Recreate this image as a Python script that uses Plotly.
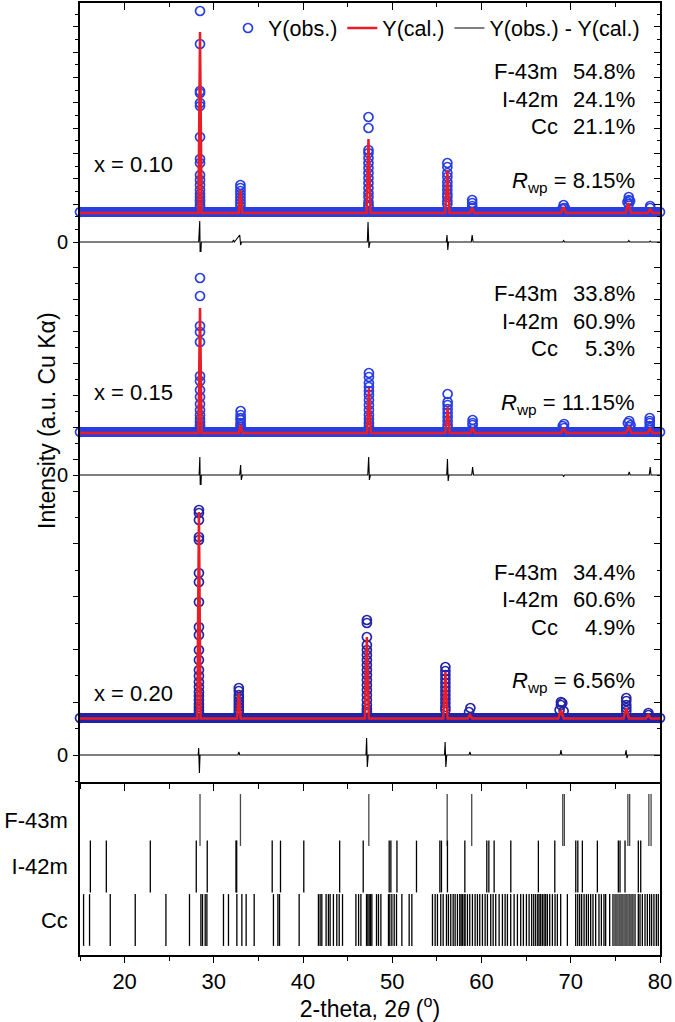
import plotly.graph_objects as go

# ---------------- data (intensity in a.u.; difference curve zero = 0) ----------------
# x = 0.10
p1_bg_obs = 300
p1_bg_cal = 290
p1_peak_pos = [28.45, 32.98, 47.33, 56.17, 58.95, 69.18, 76.45, 78.9]
p1_peak_cal = [2100, 520, 1030, 720, 340, 350, 390, 330]
p1_peak_hw = [0.18, 0.2, 0.22, 0.24, 0.25, 0.3, 0.3, 0.28]
p1_obs_pos = [28.45, 32.98, 47.33, 56.17, 58.95, 69.05, 69.2, 69.35, 76.35, 76.5, 76.65, 78.9, 15.0, 80.0]
p1_obs_vals = [[2310, 1980, 1510, 1490, 1390, 1360, 1050, 830, 790, 670, 620, 570, 520, 480, 450, 420, 400, 370, 350],
               [570, 540, 510, 480, 450, 420, 390, 360],
               [1250, 1140, 920, 890, 840, 790, 740, 690, 640, 590, 540, 490, 450, 400, 370, 350],
               [790, 750, 690, 650, 600, 560, 520, 480, 450, 410, 380],
               [420, 390, 360, 340],
               [330], [370, 340], [340],
               [400], [450, 420, 380], [410],
               [360, 340],
               [300], [300]]
p1_diff_x = [15, 28.3, 28.42, 28.48, 28.6, 32.1, 32.2, 32.3, 32.9, 33.0, 33.1, 47.2, 47.28, 47.38, 47.5,
             56.05, 56.13, 56.22, 56.3, 58.85, 58.95, 59.05, 69.1, 69.2, 69.3, 76.4, 76.5, 76.6, 78.8, 78.9, 79.0, 80]
p1_diff_y = [0, 0, 210, -230, 0, 0, 20, 0, 70, -30, 0, 0, 200, -60, 0,
             0, 70, -80, 0, 0, 70, 0, 0, 15, 0, 0, 15, 0, 0, 10, 0, 0]

# x = 0.15
p2_bg_obs = 430
p2_bg_cal = 420
p2_peak_pos = [28.45, 33.0, 47.38, 56.2, 59.0, 69.2, 76.5, 78.9]
p2_peak_cal = [1670, 500, 870, 680, 470, 470, 480, 470]
p2_peak_hw = [0.18, 0.2, 0.22, 0.24, 0.25, 0.3, 0.3, 0.28]
p2_obs_pos = [28.45, 33.0, 47.38, 56.2, 59.0, 69.1, 69.25, 76.4, 76.55, 76.7, 78.85, 15.0, 80.0]
p2_obs_vals = [[1970, 1790, 1490, 1430, 1330, 990, 940, 850, 780, 710, 650, 600, 560, 530, 500, 480, 460],
               [640, 600, 570, 550, 520, 500, 480, 460],
               [1020, 980, 920, 880, 840, 800, 750, 700, 650, 600, 560, 520, 490, 460],
               [810, 730, 700, 660, 620, 580, 540, 500, 470],
               [550, 520, 500, 460],
               [490], [510, 470],
               [520], [540, 480], [500],
               [570, 540, 520, 490, 470],
               [430], [430]]
p2_diff_x = [15, 28.35, 28.43, 28.5, 28.6, 32.9, 33.0, 33.08, 33.2, 47.25, 47.35, 47.43, 47.55,
             56.1, 56.18, 56.26, 56.35, 58.9, 59.0, 59.1, 69.1, 69.2, 69.3, 76.45, 76.55, 76.65,
             78.8, 78.9, 79.0, 80]
p2_diff_y = [0, 0, 180, -250, 0, 0, 100, -50, 0, 0, 180, -50, 0,
             0, 160, -60, 0, 0, 80, 0, 0, -15, 0, 0, 30, 0,
             0, 80, 0, 0]

# x = 0.20
p3_bg_obs = 370
p3_bg_cal = 365
p3_peak_pos = [28.33, 32.8, 47.15, 55.95, 58.7, 68.9, 76.22, 78.7]
p3_peak_cal = [2430, 620, 1180, 830, 400, 450, 470, 400]
p3_peak_hw = [0.18, 0.2, 0.22, 0.24, 0.25, 0.3, 0.3, 0.28]
p3_obs_pos = [28.33, 32.8, 47.15, 55.95, 58.6, 58.75, 68.75, 68.9, 69.05, 69.2, 76.22, 78.7, 15.0, 80.0]
p3_obs_vals = [[2450, 2420, 2350, 2180, 2150, 1820, 1730, 1530, 1280, 1200, 1050, 950, 850, 790, 730, 680,
                630, 590, 550, 510, 480, 450, 420],
               [670, 640, 600, 570, 540, 510, 480, 450, 420],
               [1350, 1320, 1180, 1100, 1050, 1000, 950, 900, 850, 800, 750, 700, 650, 600, 550, 500, 460, 430],
               [880, 840, 800, 760, 720, 680, 640, 600, 560, 520, 480, 450],
               [430], [470],
               [450], [530, 500], [520], [440],
               [570, 540, 500, 470, 440],
               [420, 400],
               [370], [370]]
p3_diff_x = [15, 28.25, 28.3, 28.38, 28.45, 32.7, 32.8, 32.9, 47.05, 47.12, 47.2, 47.3,
             55.85, 55.92, 56.0, 56.1, 58.6, 58.7, 58.8, 68.8, 68.9, 69.0, 76.1, 76.2, 76.3, 76.4, 80]
p3_diff_y = [0, 0, 70, -180, 0, 0, 30, 0, 0, 170, -120, 0,
             0, 130, -120, 0, 0, 30, 0, 0, 50, 0, 0, 50, -30, 0, 0]

samples = ["x = 0.10", "x = 0.15", "x = 0.20"]
phase_names = ["F-43m", "I-42m", "Cc"]
p1_frac = ["54.8%", "24.1%", "21.1%"]
p2_frac = ["33.8%", "60.9%", "5.3%"]
p3_frac = ["34.4%", "60.6%", "4.9%"]
rwp = ["8.15%", "11.15%", "6.56%"]

# Bragg reflection positions (2-theta, deg)
ref_F43m = [28.45, 32.98, 47.37, 56.15, 58.9, 69.1, 69.28, 76.4, 76.6, 78.75, 79.0]
ref_I42m = [16.16, 17.95, 22.88, 28.03, 29.26, 32.48, 32.56, 36.54, 37.47, 40.08, 44.1, 46.74,
            49.65, 49.84, 50.52, 52.71, 55.33, 55.51, 56.18, 58.13, 60.59, 60.82, 61.41, 63.28,
            66.37, 68.21, 70.56, 70.79, 71.3, 72.98, 75.33, 75.52, 76.08, 77.57, 77.84]
ref_Cc = [15.4, 16.07, 18.39, 21.19, 24.63, 27.27, 28.55, 28.73, 29.03, 29.22, 31.08, 31.64,
          32.58, 33.14, 33.62, 34.52, 36.68, 37.18, 37.36, 39.56, 41.72, 41.91, 42.1, 42.58,
          42.84, 43.03, 43.4, 43.78, 44.05, 44.42, 45.92, 46.22, 46.48, 47.11, 47.26, 47.41,
          47.56, 47.71, 48.23, 48.45, 48.72, 49.57, 49.72, 49.95, 50.21, 50.47, 51.07, 51.89,
          52.19, 54.5, 54.8, 55.06, 55.43, 55.7, 56.07, 56.29, 56.55, 56.82, 57.04, 57.3,
          57.56, 57.71, 57.86, 58.05, 58.16, 58.42, 58.68, 58.98, 59.28, 59.54, 59.8, 60.1,
          60.4, 60.66, 61.03, 61.3, 61.59, 61.97, 62.34, 62.64, 62.9, 63.27, 63.65, 64.02,
          64.39, 64.69, 65.03, 65.33, 65.62, 65.85, 66.07, 66.3, 66.45, 66.63, 66.82, 67.01,
          67.19, 67.38, 67.64, 67.94, 68.24, 68.5, 68.87, 69.62, 70.55, 70.78, 71.0, 71.22,
          71.49, 71.75, 71.97, 72.23, 72.49, 72.79, 73.16, 73.43, 73.72, 73.91, 74.36, 74.73,
          74.96, 75.18, 75.41, 75.63, 75.85, 76.08, 76.3, 76.53, 76.75, 76.97, 77.2, 77.57,
          77.76, 78.02, 78.32, 78.58, 78.84, 79.06, 79.32, 79.59, 79.81]

# ---------------- layout geometry ----------------
W, H = 675, 1022
L, R, T, B = 80, 15, 3, 67
PW, PH = W - L - R, H - T - B
FONT = "Liberation Sans, Arial, sans-serif"


def pxx(x):
    return (x - L) / PW


def pyy(y):
    return (H - B - y) / PH


panels = [
    dict(bg_obs=p1_bg_obs, bg_cal=p1_bg_cal, pk=p1_peak_pos, pc=p1_peak_cal, hw=p1_peak_hw,
         op=p1_obs_pos, ov=p1_obs_vals, dx=p1_diff_x, dy=p1_diff_y, frac=p1_frac,
         ax="y4", xa="x4", rng=[-100, 2390], dom=[pyy(252), 1.0], col="rgb(40,62,226)",
         major=[379.5 + 253 * k for k in range(8)], minor=126.5,
         rows=[72, 100, 127, 182], sy=165, right="yaxis5", left="yaxis8"),
    dict(bg_obs=p2_bg_obs, bg_cal=p2_bg_cal, pk=p2_peak_pos, pc=p2_peak_cal, hw=p2_peak_hw,
         op=p2_obs_pos, ov=p2_obs_vals, dx=p2_diff_x, dy=p2_diff_y, frac=p2_frac,
         ax="y3", xa="x3", rng=[-100, 2230], dom=[pyy(485), pyy(252)], col="rgb(40,62,226)",
         major=[160 + 320 * k for k in range(7)], minor=160,
         rows=[293, 321, 348, 404], sy=392, right="yaxis6", left="yaxis9"),
    dict(bg_obs=p3_bg_obs, bg_cal=p3_bg_cal, pk=p3_peak_pos, pc=p3_peak_cal, hw=p3_peak_hw,
         op=p3_obs_pos, ov=p3_obs_vals, dx=p3_diff_x, dy=p3_diff_y, frac=p3_frac,
         ax="y2", xa="x2", rng=[-270, 2700], dom=[pyy(782), pyy(485)], col="rgb(34,36,168)",
         major=[528 * k for k in range(6)], minor=264,
         rows=[572, 599, 627, 682], sy=693, right="yaxis7", left="yaxis10"),
]

fig = go.Figure()
annotations = []
for i, p in enumerate(panels):
    first = (i == 0)
    # observed: dense band along the background
    fig.add_trace(go.Scatter(x=[15, 80], y=[p["bg_obs"], p["bg_obs"]], mode="lines",
                             line=dict(color=p["col"], width=10), showlegend=False,
                             hoverinfo="skip", xaxis=p["xa"], yaxis=p["ax"]))
    ox, oy = [], []
    for pos, vals in zip(p["op"], p["ov"]):
        for v in vals:
            ox.append(pos)
            oy.append(v)
    fig.add_trace(go.Scatter(x=ox, y=oy, mode="markers", name="Y(obs.)",
                             marker=dict(symbol="circle-open", size=9, color=p["col"],
                                         line=dict(width=1.7, color=p["col"])),
                             cliponaxis=False, showlegend=first, legendrank=1,
                             xaxis=p["xa"], yaxis=p["ax"]))
    # calculated
    cx, cy = [15], [p["bg_cal"]]
    for pos, top, w in zip(p["pk"], p["pc"], p["hw"]):
        cx += [pos - w, pos, pos + w]
        cy += [p["bg_cal"], top, p["bg_cal"]]
    cx.append(80)
    cy.append(p["bg_cal"])
    fig.add_trace(go.Scatter(x=cx, y=cy, mode="lines", name="Y(cal.)",
                             line=dict(color="rgb(236,28,36)", width=2.5),
                             showlegend=first, legendrank=2, xaxis=p["xa"], yaxis=p["ax"]))
    # difference
    fig.add_trace(go.Scatter(x=p["dx"], y=p["dy"], mode="lines", name="Y(obs.) - Y(cal.)",
                             line=dict(color="black", width=1.1),
                             showlegend=first, legendrank=3, xaxis=p["xa"], yaxis=p["ax"]))
    # text
    r = p["rows"]
    for j in range(3):
        annotations.append(dict(x=pxx(560), y=pyy(r[j]), xref="paper", yref="paper",
                                text=phase_names[j], showarrow=False, xanchor="right",
                                yanchor="middle", font=dict(size=22, family=FONT, color="black")))
        annotations.append(dict(x=pxx(637), y=pyy(r[j]), xref="paper", yref="paper",
                                text=p["frac"][j], showarrow=False, xanchor="right",
                                yanchor="middle", font=dict(size=22, family=FONT, color="black")))
    annotations.append(dict(x=pxx(637), y=pyy(r[3]), xref="paper", yref="paper",
                            text="<i>R</i><sub>wp</sub> = " + rwp[i], showarrow=False,
                            xanchor="right", yanchor="middle",
                            font=dict(size=22, family=FONT, color="black")))
    annotations.append(dict(x=pxx(92), y=pyy(p["sy"]), xref="paper", yref="paper",
                            text=samples[i], showarrow=False, xanchor="left", yanchor="middle",
                            font=dict(size=22, family=FONT, color="black")))

# y-axis title
annotations.append(dict(x=pxx(32), y=pyy(421), xref="paper", yref="paper",
                        text="Intensity (a.u. Cu Kα)", textangle=-90, showarrow=False,
                        font=dict(size=23, family=FONT, color="black")))

# Bragg positions panel
row_pos = [135, 88.5, 35]
for refs, yy, colr in [(ref_F43m, row_pos[0], "rgb(70,70,70)"),
                       (ref_I42m, row_pos[1], "black"),
                       (ref_Cc, row_pos[2], "black")]:
    fig.add_trace(go.Scatter(x=refs, y=[yy] * len(refs), mode="markers",
                             marker=dict(symbol="line-ns-open", size=37, color=colr,
                                         line=dict(width=1.3, color=colr)),
                             showlegend=False, hoverinfo="x", xaxis="x", yaxis="y"))

# empty traces to realise the extra tick-only axes
for p in panels:
    for key in (p["right"], p["left"]):
        fig.add_trace(go.Scatter(x=[], y=[], xaxis=p["xa"], yaxis=key.replace("axis", ""),
                                 showlegend=False))

axis_common = dict(showgrid=False, zeroline=False, linecolor="black", linewidth=1.6,
                   tickcolor="black", tickwidth=1.4)

layout = dict(
    width=W, height=H, margin=dict(l=L, r=R, t=T, b=B),
    paper_bgcolor="white", plot_bgcolor="white",
    font=dict(family=FONT, size=22, color="black"),
    showlegend=True,
    legend=dict(orientation="h", x=pxx(228), y=pyy(28), xanchor="left", yanchor="middle",
                bgcolor="rgba(0,0,0,0)", font=dict(size=21.5, family=FONT), itemwidth=30,
                tracegroupgap=0),
    xaxis=dict(domain=[0, 1], anchor="y", range=[15, 80], tickmode="linear", tick0=20, dtick=10,
               ticks="outside", ticklen=6, showline=True, mirror=False,
               minor=dict(dtick=5, tick0=15, ticks="outside", ticklen=4, tickcolor="black", tickwidth=1.4),
               tickfont=dict(size=22, family=FONT),
               title=dict(text="2-theta, 2<i>θ</i> (<sup>o</sup>)", font=dict(size=23, family=FONT), standoff=6),
               **axis_common),
    yaxis=dict(domain=[0, pyy(782)], anchor="x", range=[0, 173], tickmode="array",
               tickvals=row_pos, ticktext=phase_names, ticks="", showline=True, mirror=True,
               tickfont=dict(size=22, family=FONT), ticklabelstandoff=6, fixedrange=True,
               **axis_common),
    annotations=annotations,
)

xa_map = {"y2": "xaxis2", "y3": "xaxis3", "y4": "xaxis4"}
ya_map = {"y2": "yaxis2", "y3": "yaxis3", "y4": "yaxis4"}
for p in panels:
    a = p["ax"]
    xkey = xa_map[a]
    if a == "y2":
        layout[xkey] = dict(anchor=a, matches="x", showticklabels=False, ticks="outside", ticklen=7,
                            tickmode="linear", tick0=20, dtick=10, showline=True,
                            minor=dict(dtick=5, tick0=15, ticks="outside", ticklen=5,
                                       tickcolor="black", tickwidth=1.4), **axis_common)
    elif a == "y4":
        layout[xkey] = dict(anchor=a, matches="x", showticklabels=False, ticks="inside", ticklen=7,
                            side="top", tickmode="linear", tick0=20, dtick=10, showline=True,
                            minor=dict(dtick=5, tick0=15, ticks="inside", ticklen=4,
                                       tickcolor="black", tickwidth=1.4), **axis_common)
    else:
        layout[xkey] = dict(anchor=a, matches="x", visible=False, showgrid=False, zeroline=False)
    mj = [v for v in p["major"] if p["rng"][0] <= v <= p["rng"][1]]
    minor_out = dict(tick0=0, dtick=p["minor"], ticks="outside", ticklen=3.5,
                     tickcolor="black", tickwidth=1.4)
    # labelled left axis: "0" at the difference-curve baseline, minor ticks
    layout[ya_map[a]] = dict(domain=p["dom"], anchor=p["xa"], range=p["rng"], tickmode="array",
                             tickvals=[0], ticktext=["0"], ticks="outside", ticklen=5,
                             showline=True, minor=minor_out,
                             tickfont=dict(size=20, family=FONT), ticklabelstandoff=1, **axis_common)
    # left major ticks
    layout[p["left"]] = dict(overlaying=a, anchor=p["xa"], side="left", range=p["rng"],
                             tickmode="array", tickvals=mj, showticklabels=False,
                             ticks="outside", ticklen=6.5, showline=False, **axis_common)
    # right mirrored ticks pointing inward
    layout[p["right"]] = dict(overlaying=a, anchor=p["xa"], side="right", range=p["rng"],
                              tickmode="array", tickvals=mj, showticklabels=False,
                              ticks="inside", ticklen=6, showline=True,
                              minor=dict(tick0=0, dtick=p["minor"], ticks="inside", ticklen=3.5,
                                         tickcolor="black", tickwidth=1.4),
                              **axis_common)

fig.update_layout(**layout)
fig.write_html("out.html", config={"displayModeBar": False},
               post_script="document.body.style.margin='0px';document.body.style.overflow='hidden';")
